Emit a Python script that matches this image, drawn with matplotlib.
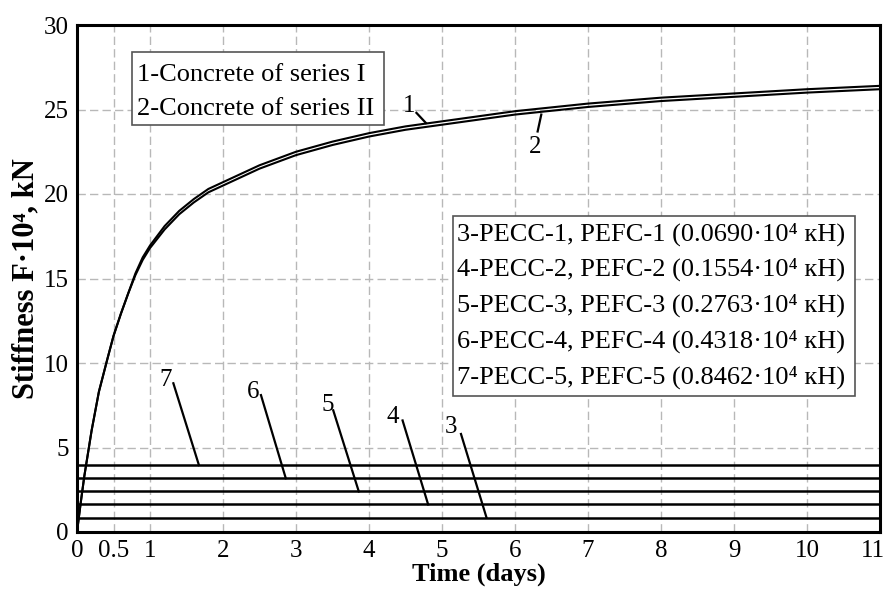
import matplotlib.pyplot as plt
from matplotlib.patches import Rectangle
from matplotlib.transforms import ScaledTranslation

plt.rcParams['font.family'] = ['Liberation Serif', 'DejaVu Serif']

# curves 1 and 2 - concrete of series I and II
time_days = [0, 0.05, 0.1, 0.2, 0.3, 0.42, 0.5, 0.6, 0.7, 0.8, 0.9, 1.0, 1.2, 1.4,
             1.6, 1.8, 2.0, 2.5, 3.0, 3.5, 4.0, 4.5, 5.0, 6.0, 7.0, 8.0, 9.0, 10.0, 11.0]
stiff_series1 = [0, 1.7, 3.3, 6.0, 8.3, 10.3, 11.6, 12.9, 14.1, 15.3, 16.25, 16.95, 18.1, 19.0,
                 19.7, 20.3, 20.7, 21.7, 22.5, 23.1, 23.6, 24.0, 24.3, 24.9, 25.35, 25.7, 25.95, 26.2, 26.4]
stiff_series2 = [0, 1.7, 3.3, 6.0, 8.3, 10.3, 11.6, 12.9, 14.1, 15.2, 16.1, 16.8, 17.9, 18.8,
                 19.5, 20.1, 20.5, 21.5, 22.3, 22.9, 23.4, 23.8, 24.1, 24.7, 25.15, 25.5, 25.75, 26.0, 26.2]

# lines 3..7 - PECC / PEFC (constant stiffness)
pecc_numbers = ['3', '4', '5', '6', '7']
pecc_levels = [0.85, 1.63, 2.4, 3.18, 3.96]

legend1 = ['1-Concrete of series I', '2-Concrete of series II']
legend2 = ['3-PECC-1, PEFC-1 (0.0690\u00b710\u2074 \u043a\u041d)',
           '4-PECC-2, PEFC-2 (0.1554\u00b710\u2074 \u043a\u041d)',
           '5-PECC-3, PEFC-3 (0.2763\u00b710\u2074 \u043a\u041d)',
           '6-PECC-4, PEFC-4 (0.4318\u00b710\u2074 \u043a\u041d)',
           '7-PECC-5, PEFC-5 (0.8462\u00b710\u2074 \u043a\u041d)']

x_ticks = [0, 0.5, 1, 2, 3, 4, 5, 6, 7, 8, 9, 10, 11]
x_tick_labels = ['0', '0.5', '1', '2', '3', '4', '5', '6', '7', '8', '9', '10', '11']
y_ticks = [0, 5, 10, 15, 20, 25, 30]

fig = plt.figure(figsize=(8.9, 5.98), dpi=100)
ax = fig.add_axes([77 / 890, 66 / 598, 803 / 890, 507 / 598])

ax.set_xlim(0, 11)
ax.set_ylim(0, 30)

# grid (dashed, light gray)
for gx in x_ticks[1:-1]:
    ax.axvline(gx, color='#b8b8b8', lw=1.0, ls=(0, (6, 3)), zorder=0)
for gy in y_ticks[1:-1]:
    ax.axhline(gy, color='#b8b8b8', lw=1.0, ls=(0, (6, 3)), zorder=0)

ax.plot(time_days, stiff_series1, color='black', lw=1.5, zorder=3)
ax.plot(time_days, stiff_series2, color='black', lw=1.5, zorder=3)

for lvl in pecc_levels:
    ax.plot([0, 11], [lvl, lvl], color='black', lw=1.8, zorder=3)

# number labels with leader lines
leaders = [
    ('1', 4.55, 25.2, 4.65, 24.8, 4.78, 24.2),
    ('2', 6.27, 22.8, 6.31, 23.7, 6.36, 24.7),
    ('7', 1.22, 9.0, 1.32, 8.8, 1.67, pecc_levels[4]),
    ('6', 2.41, 8.3, 2.52, 8.1, 2.86, pecc_levels[3]),
    ('5', 3.43, 7.5, 3.51, 7.2, 3.86, pecc_levels[2]),
    ('4', 4.33, 6.8, 4.46, 6.6, 4.81, pecc_levels[1]),
    ('3', 5.13, 6.2, 5.26, 5.8, 5.61, pecc_levels[0]),
]
for lab, tx, ty, x0, y0, x1, y1 in leaders:
    ax.text(tx, ty, lab, fontsize=18, ha='center', va='center', zorder=4)
    ax.plot([x0, x1], [y0, y1], color='black', lw=1.6, zorder=4)

# legend box 1
ax.add_patch(Rectangle((0.068, 0.803), 0.314, 0.144, transform=ax.transAxes,
                       facecolor='white', edgecolor='#555555', lw=1.2, zorder=5))
for i, s in enumerate(legend1):
    ax.text(0.075, 0.901 - i * 0.066, s, transform=ax.transAxes, fontsize=19,
            ha='left', va='center', zorder=6)

# legend box 2
ax.add_patch(Rectangle((0.468, 0.268), 0.501, 0.356, transform=ax.transAxes,
                       facecolor='white', edgecolor='#555555', lw=1.2, zorder=5))
for i, s in enumerate(legend2):
    ax.text(0.473, 0.588 - i * 0.0705, s, transform=ax.transAxes, fontsize=19,
            ha='left', va='center', zorder=6)

ax.set_xticks(x_ticks)
ax.set_xticklabels(x_tick_labels)
ax.set_yticks(y_ticks)
ax.tick_params(length=0, labelsize=18, pad=6)

# last x label sits at the very edge, nudge it a little to the left
last_lbl = ax.get_xticklabels()[-1]
last_lbl.set_transform(last_lbl.get_transform() + ScaledTranslation(-5 / 72, 0, fig.dpi_scale_trans))

for sp in ax.spines.values():
    sp.set_linewidth(2.2)
    sp.set_zorder(6)

ax.set_xlabel('Time (days)', fontsize=19, fontweight='bold', labelpad=0)
ax.set_ylabel('Stiffness F\u00b710\u2074, kN', fontsize=22, fontweight='bold', labelpad=2)

fig.savefig('out.png', dpi=100)
